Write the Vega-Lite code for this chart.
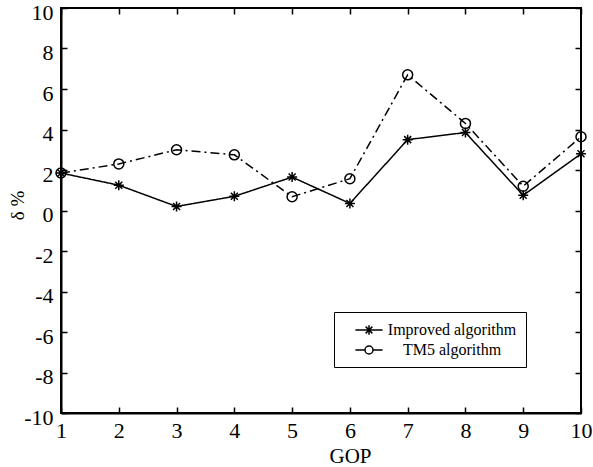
{
  "$schema": "https://vega.github.io/schema/vega-lite/v6.json",
  "width": 520,
  "height": 405,
  "autosize": {"type": "none"},
  "padding": {"left": 61, "top": 8, "right": 12, "bottom": 54},
  "background": "white",
  "config": {
    "font": "Liberation Serif",
    "view": {"stroke": "black", "strokeWidth": 2},
    "axis": {
      "grid": false,
      "domainColor": "black",
      "domainWidth": 2,
      "tickColor": "black",
      "tickWidth": 1.5,
      "tickSize": -6,
      "labelColor": "black",
      "labelFontSize": 22,
      "labelFont": "Liberation Serif",
      "titleFont": "Liberation Serif",
      "titleFontSize": 21,
      "titleFontWeight": "normal",
      "titleColor": "black"
    },
    "legend": {
      "labelFont": "Liberation Serif",
      "labelFontSize": 16,
      "labelColor": "black"
    }
  },
  "data": {
    "values": [
      {"GOP": 1, "series": "Improved algorithm", "delta": 1.85},
      {"GOP": 2, "series": "Improved algorithm", "delta": 1.25},
      {"GOP": 3, "series": "Improved algorithm", "delta": 0.2},
      {"GOP": 4, "series": "Improved algorithm", "delta": 0.7},
      {"GOP": 5, "series": "Improved algorithm", "delta": 1.65},
      {"GOP": 6, "series": "Improved algorithm", "delta": 0.35},
      {"GOP": 7, "series": "Improved algorithm", "delta": 3.5},
      {"GOP": 8, "series": "Improved algorithm", "delta": 3.85},
      {"GOP": 9, "series": "Improved algorithm", "delta": 0.75},
      {"GOP": 10, "series": "Improved algorithm", "delta": 2.8},
      {"GOP": 1, "series": "TM5 algorithm", "delta": 1.85},
      {"GOP": 2, "series": "TM5 algorithm", "delta": 2.3},
      {"GOP": 3, "series": "TM5 algorithm", "delta": 3.0},
      {"GOP": 4, "series": "TM5 algorithm", "delta": 2.75},
      {"GOP": 5, "series": "TM5 algorithm", "delta": 0.68},
      {"GOP": 6, "series": "TM5 algorithm", "delta": 1.57},
      {"GOP": 7, "series": "TM5 algorithm", "delta": 6.7},
      {"GOP": 8, "series": "TM5 algorithm", "delta": 4.3},
      {"GOP": 9, "series": "TM5 algorithm", "delta": 1.2},
      {"GOP": 10, "series": "TM5 algorithm", "delta": 3.64}
    ]
  },
  "layer": [
    {
      "mark": {"type": "line", "color": "black", "strokeWidth": 1.5},
      "encoding": {
        "x": {
          "field": "GOP", "type": "quantitative",
          "scale": {"domain": [1, 10], "nice": false, "zero": false},
          "axis": {"orient": "bottom", "values": [1,2,3,4,5,6,7,8,9,10], "labelExpr": "'' + datum.value", "labelPadding": 13, "title": "GOP", "titleX": 289, "titleY": 49, "titleBaseline": "alphabetic", "titleAlign": "center", "labelFlush": false}
        },
        "y": {
          "field": "delta", "type": "quantitative",
          "scale": {"domain": [-10, 10], "nice": false},
          "axis": {"orient": "left", "values": [-10,-8,-6,-4,-2,0,2,4,6,8,10], "labelExpr": "'' + datum.value", "labelPadding": 14, "labelOffset": 4, "title": "δ %", "titleFontSize": 19, "titleX": -44, "titleY": 197, "titleAngle": 270, "titleAlign": "center", "titleBaseline": "middle", "labelFlush": false}
        },
        "strokeDash": {
          "field": "series", "type": "nominal",
          "scale": {"domain": ["Improved algorithm", "TM5 algorithm"], "range": [[1, 0], [9, 4, 2, 4]]},
          "legend": null
        }
      }
    },
    {
      "mark": {"type": "point", "filled": false, "color": "black", "strokeWidth": 1.5, "size": 100, "opacity": 1},
      "encoding": {
        "x": {"field": "GOP", "type": "quantitative", "axis": {"orient": "top", "values": [1,2,3,4,5,6,7,8,9,10], "labels": false, "title": null, "domain": false}},
        "y": {"field": "delta", "type": "quantitative", "axis": {"orient": "right", "values": [-10,-8,-6,-4,-2,0,2,4,6,8,10], "labels": false, "title": null, "domain": false}},
        "shape": {
          "field": "series", "type": "nominal",
          "scale": {"domain": ["Improved algorithm", "TM5 algorithm"], "range": ["M-1,0L1,0M0,-1L0,1M-0.7,-0.7L0.7,0.7M-0.7,0.7L0.7,-0.7", "circle"]},
          "legend": null
        }
      }
    },
    {
      "transform": [{"filter": "false"}],
      "mark": {"type": "point", "filled": false, "color": "black", "strokeWidth": 1.5, "size": 256, "opacity": 1},
      "encoding": {
        "shape": {
          "field": "series", "type": "nominal",
          "scale": {"domain": ["Improved algorithm", "TM5 algorithm"], "range": ["M-1.7,0L1.7,0M-0.6,0L0.6,0M0,-0.6L0,0.6M-0.42,-0.42L0.42,0.42M-0.42,0.42L0.42,-0.42", "M-1.7,0L-0.5,0M0.5,0L1.7,0M-0.5,0A0.5,0.5 0 1,0 0.5,0A0.5,0.5 0 1,0 -0.5,0"]},
          "legend": {
            "title": null,
            "orient": "none",
            "legendX": 273,
            "legendY": 304,
            "padding": 9,
            "rowPadding": 3,
            "symbolSize": 256,
            "symbolStrokeWidth": 1.5,
            "symbolStrokeColor": "black",
            "symbolOffset": 17,
            "labelAlign": "center",
            "labelOffset": 74,
            "strokeColor": "black",
            "fillColor": "white",
            "cornerRadius": 0
          }
        }
      }
    }
  ],
  "resolve": {"axis": {"x": "independent", "y": "independent"}, "scale": {"shape": "independent"}}
}
